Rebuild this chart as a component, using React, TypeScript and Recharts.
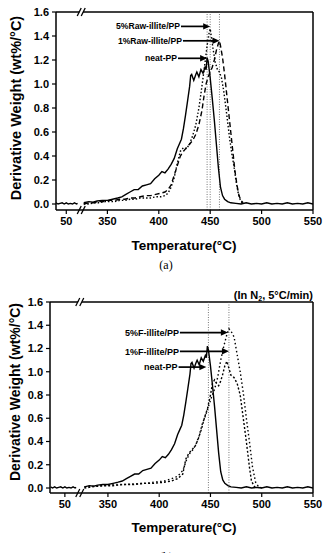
import React from "react";
import { LineChart, Line, XAxis, YAxis, ReferenceLine } from "recharts";

type Pt = [number, number];

// DTG curves, [temperature °C, derivative weight wt%/°C]
const LEFT_BASE: Pt[] = [
  [36, 0.01], [38, 0.0], [40, 0.01], [42, 0.0], [44, 0.005], [46, 0.01], [48, 0.0],
  [50, 0.01], [52, 0.0], [54, 0.005], [56, 0.0], [58, 0.01], [60, 0.0], [61, 0.005],
];

const NEAT_PP: Pt[] = [
  [327, 0.01], [332, 0.02], [336, 0.015], [340, 0.025], [345, 0.03], [350, 0.03], [355, 0.04],
  [360, 0.05], [364, 0.06], [368, 0.08], [372, 0.1], [376, 0.12], [380, 0.12], [384, 0.15],
  [388, 0.16], [392, 0.17], [396, 0.21], [400, 0.24], [403, 0.27], [406, 0.26], [409, 0.29],
  [412, 0.33], [415, 0.38], [418, 0.46], [420, 0.5], [422, 0.54], [424, 0.63], [426, 0.74],
  [428, 0.86], [430, 0.98], [431, 1.07], [432, 1.08], [434, 1.03], [436, 1.08], [437, 1.1],
  [439, 1.06], [441, 1.12], [443, 1.09], [445, 1.14], [446, 1.12], [447, 1.22], [448, 1.19],
  [449, 1.12], [450, 1.05], [452, 0.88], [454, 0.7], [456, 0.5], [458, 0.3], [460, 0.14],
  [462, 0.07], [464, 0.04], [467, 0.02], [470, 0.01], [475, 0.005], [480, 0.0], [485, 0.01],
  [490, 0.0], [495, 0.005], [500, 0.0], [505, 0.01], [510, 0.0], [515, 0.005], [520, 0.0],
  [525, 0.01], [530, 0.0], [535, 0.005], [540, 0.0], [545, 0.01], [550, 0.0],
];

const RAW_1: Pt[] = [
  [327, 0.0], [332, 0.01], [337, 0.01], [342, 0.02], [347, 0.02], [352, 0.03], [357, 0.03],
  [362, 0.04], [367, 0.04], [372, 0.05], [377, 0.05], [382, 0.06], [387, 0.07], [392, 0.07],
  [397, 0.08], [402, 0.09], [406, 0.1], [409, 0.12], [412, 0.16], [415, 0.24], [418, 0.32],
  [421, 0.4], [424, 0.44], [427, 0.47], [430, 0.5], [433, 0.53], [436, 0.58], [439, 0.66],
  [442, 0.78], [444, 0.9], [446, 1.0], [448, 1.06], [450, 1.1], [452, 1.14], [454, 1.2],
  [456, 1.28], [458, 1.34], [459, 1.36], [460, 1.32], [462, 1.22], [464, 1.08], [466, 0.92],
  [468, 0.76], [470, 0.6], [472, 0.44], [474, 0.28], [476, 0.16], [478, 0.07], [480, 0.03],
  [482, 0.01],
];

const RAW_5: Pt[] = [
  [327, 0.0], [332, 0.0], [337, 0.01], [342, 0.01], [347, 0.02], [352, 0.02], [357, 0.02],
  [362, 0.03], [367, 0.03], [372, 0.04], [377, 0.04], [382, 0.05], [387, 0.05], [392, 0.05],
  [397, 0.06], [402, 0.06], [406, 0.07], [409, 0.09], [412, 0.14], [415, 0.22], [418, 0.34],
  [421, 0.44], [424, 0.47], [427, 0.46], [430, 0.5], [433, 0.57], [436, 0.66], [439, 0.8],
  [441, 0.92], [443, 1.05], [445, 1.18], [447, 1.32], [449, 1.43], [450, 1.46], [451, 1.4],
  [453, 1.28], [455, 1.18], [457, 1.12], [459, 1.1], [461, 1.05], [463, 0.95], [465, 0.82],
  [467, 0.68], [469, 0.54], [471, 0.42], [473, 0.32], [475, 0.2], [477, 0.1], [479, 0.04],
  [481, 0.01],
];

const F_1: Pt[] = [
  [327, 0.0], [335, 0.01], [345, 0.02], [355, 0.02], [365, 0.03], [375, 0.03], [385, 0.04],
  [395, 0.04], [405, 0.05], [412, 0.06], [418, 0.08], [423, 0.12], [426, 0.25], [429, 0.3],
  [432, 0.33], [435, 0.36], [438, 0.42], [441, 0.5], [444, 0.6], [447, 0.68], [450, 0.8],
  [452, 0.9], [454, 0.93], [456, 0.9], [458, 0.88], [460, 0.92], [462, 0.98], [464, 1.05],
  [466, 1.09], [468, 1.03], [470, 0.97], [473, 0.95], [476, 0.9], [479, 0.8], [482, 0.6],
  [485, 0.4], [488, 0.18], [490, 0.06], [493, 0.01], [500, 0.0],
];

const F_5: Pt[] = [
  [327, 0.01], [335, 0.015], [345, 0.02], [355, 0.03], [365, 0.03], [375, 0.035], [385, 0.04],
  [395, 0.05], [405, 0.06], [412, 0.08], [418, 0.1], [423, 0.15], [427, 0.25], [430, 0.3],
  [433, 0.33], [436, 0.38], [439, 0.45], [442, 0.55], [445, 0.62], [448, 0.7], [451, 0.78],
  [454, 0.85], [457, 0.95], [460, 1.1], [463, 1.22], [466, 1.32], [468, 1.37], [470, 1.35],
  [473, 1.3], [476, 1.15], [479, 1.0], [482, 0.82], [485, 0.6], [488, 0.4], [491, 0.18],
  [494, 0.05], [497, 0.01], [500, 0.0],
];

const TEMP_TICKS = [50, 350, 400, 450, 500, 550];
const WEIGHT_TICKS = [0, 0.2, 0.4, 0.6, 0.8, 1.0, 1.2, 1.4, 1.6];

const RAW_PEAKS = [447, 450, 459];
const F_PEAKS = [448, 468];

const RAW_ARROWS = [
  { label: "5%Raw-illite/PP", y: 1.48, from: 421.6, to: 450 },
  { label: "1%Raw-illite/PP", y: 1.36, from: 423.5, to: 459 },
  { label: "neat-PP", y: 1.214, from: 418.7, to: 447 },
];
const F_ARROWS = [
  { label: "5%F-illite/PP", y: 1.337, from: 420.2, to: 467 },
  { label: "1%F-illite/PP", y: 1.176, from: 420.2, to: 468 },
  { label: "neat-PP", y: 1.04, from: 418.9, to: 446 },
];

const FONT = '"Liberation Sans", Arial, Helvetica, sans-serif';
const SERIF = '"Liberation Serif", "Times New Roman", serif';
const INK = "#000";
const BREAK = 65; // axis units where the temperature axis jumps

type Series = { pts: Pt[]; dash?: string; width?: number; base?: boolean };

// compress the gap between the low-temperature stub and the 320–550 °C window
const axisX = (t: number, shift: number) => (t < 200 ? t : t - shift);

function rows(s: Series, shift: number, xMin: number) {
  const out: { x: number; y: number | null }[] = [];
  if (s.base) LEFT_BASE.forEach(([t, v]) => { if (t >= xMin) out.push({ x: t, y: v }); });
  out.push({ x: BREAK, y: null });
  s.pts.forEach(([t, v]) => out.push({ x: axisX(t, shift), y: v }));
  return out;
}

const arrowShape = (label: string, size: number) => (p: any) => {
  const { x1, y1, x2, y2 } = p;
  const head = 7;
  return (
    <g>
      <line x1={x1} y1={y1} x2={x2 - head + 1} y2={y2} stroke={INK} strokeWidth={1.7} />
      <polygon points={`${x2},${y2} ${x2 - head},${y2 - 3.2} ${x2 - head},${y2 + 3.2}`} fill={INK} />
      <text x={x1 - 1} y={y1} dy="0.36em" textAnchor="end" fontSize={size} fontWeight="bold" fontFamily={FONT} fill={INK}>
        {label}
      </text>
    </g>
  );
};

// "//" marks on the top and bottom frame lines
const breakShape = (p: any) => {
  const x = p.x1;
  const ends = [Math.min(p.y1, p.y2), Math.max(p.y1, p.y2)];
  return (
    <g>
      {ends.map((y: number) => (
        <g key={y}>
          <polygon points={`${x - 4},${y + 4} ${x},${y - 4} ${x + 3.5},${y - 4} ${x - 0.5},${y + 4}`} fill="#fff" />
          <line x1={x - 4.5} y1={y + 4} x2={x - 0.5} y2={y - 4} stroke={INK} strokeWidth={1.3} />
          <line x1={x - 0.5} y1={y + 4} x2={x + 3.5} y2={y - 4} stroke={INK} strokeWidth={1.3} />
        </g>
      ))}
    </g>
  );
};

type PanelProps = {
  top: number;
  yAxisWidth: number;
  marginTop: number;
  marginBottom: number;
  shift: number;
  xDomain: [number, number];
  yMin: number;
  series: Series[];
  peaks: number[];
  arrows: { label: string; y: number; from: number; to: number }[];
  arrowFont: number;
};

function Panel(props: PanelProps) {
  const { top, yAxisWidth, marginTop, marginBottom, shift, xDomain, yMin, series, peaks, arrows, arrowFont } = props;
  const tick = { fill: INK, fontSize: 11, fontWeight: "bold", fontFamily: FONT } as const;
  return (
    <div style={{ position: "absolute", left: 0, top }}>
      <LineChart width={326} height={250} margin={{ top: marginTop, right: 13, left: 0, bottom: marginBottom }}>
        <XAxis
          type="number"
          dataKey="x"
          domain={xDomain}
          allowDataOverflow
          ticks={TEMP_TICKS.map((t) => axisX(t, shift))}
          tickFormatter={(v: number) => String(v < BREAK ? v : Math.round(v + shift))}
          tick={tick}
          height={20}
          tickSize={4}
          tickMargin={3}
          axisLine={{ stroke: INK, strokeWidth: 1.5 }}
          tickLine={{ stroke: INK, strokeWidth: 1.2 }}
        />
        <YAxis
          type="number"
          domain={[yMin, 1.6]}
          allowDataOverflow
          ticks={WEIGHT_TICKS}
          tickFormatter={(v: number) => v.toFixed(1)}
          tick={tick}
          width={yAxisWidth}
          tickSize={4}
          tickMargin={3}
          axisLine={{ stroke: INK, strokeWidth: 1.5 }}
          tickLine={{ stroke: INK, strokeWidth: 1.2 }}
        />
        <ReferenceLine y={1.6} stroke={INK} strokeWidth={1.5} />
        <ReferenceLine x={xDomain[1]} stroke={INK} strokeWidth={1.5} />
        {peaks.map((t) => (
          <ReferenceLine key={t} x={axisX(t, shift)} stroke="#555" strokeWidth={0.8} strokeDasharray="1 1.5" />
        ))}
        {series.map((s, i) => (
          <Line
            key={i}
            data={rows(s, shift, xDomain[0])}
            dataKey="y"
            type="linear"
            stroke={INK}
            strokeWidth={s.width ?? 1.4}
            strokeDasharray={s.dash}
            dot={false}
            activeDot={false}
            isAnimationActive={false}
          />
        ))}
        {arrows.map((a) => (
          <ReferenceLine
            key={a.label}
            segment={[{ x: axisX(a.from, shift), y: a.y }, { x: axisX(a.to, shift), y: a.y }]}
            shape={arrowShape(a.label, arrowFont)}
            ifOverflow="visible"
          />
        ))}
        <ReferenceLine x={BREAK} shape={breakShape} ifOverflow="visible" />
      </LineChart>
    </div>
  );
}

const yTitle = (cx: number, cy: number, size: number) => (
  <div
    style={{
      position: "absolute", left: cx - 120, top: cy - 10, width: 240, height: 20, lineHeight: "20px",
      textAlign: "center", transform: "rotate(-90deg)", fontFamily: FONT, fontWeight: "bold",
      fontSize: size, whiteSpace: "nowrap", color: INK,
    }}
  >
    Derivative Weight (wt%/°C)
  </div>
);

const centered = (cx: number, cy: number, size: number, text: React.ReactNode, family = FONT, bold = true) => (
  <div
    style={{
      position: "absolute", left: cx - 100, top: cy - 8, width: 200, height: 16, lineHeight: "16px",
      textAlign: "center", fontFamily: family, fontWeight: bold ? "bold" : "normal", fontSize: size,
      whiteSpace: "nowrap", color: INK,
    }}
  >
    {text}
  </div>
);

export default function App() {
  return (
    <div style={{ position: "absolute", left: 0, top: 0, width: 326, height: 553, overflow: "hidden", background: "#fff" }}>
      <Panel
        top={0}
        yAxisWidth={56}
        marginTop={12}
        marginBottom={20}
        shift={260}
        xDomain={[40, 290]}
        yMin={-0.05}
        series={[
          { pts: NEAT_PP, base: true },
          { pts: RAW_1, dash: "5 3" },
          { pts: RAW_5, dash: "1.5 2" },
        ]}
        peaks={RAW_PEAKS}
        arrows={RAW_ARROWS}
        arrowFont={8.6}
      />
      {yTitle(16, 108, 14.5)}
      {centered(184, 246, 13.5, "Temperature(°C)")}
      {centered(166, 265, 12, "(a)", SERIF, false)}

      <Panel
        top={290}
        yAxisWidth={50}
        marginTop={12}
        marginBottom={27}
        shift={258}
        xDomain={[35.5, 292]}
        yMin={-0.043}
        series={[
          { pts: NEAT_PP, base: true },
          { pts: F_1, dash: "2 2" },
          { pts: F_5, dash: "1.5 2.5" },
        ]}
        peaks={F_PEAKS}
        arrows={F_ARROWS}
        arrowFont={9}
      />
      <div
        style={{
          position: "absolute", right: 13, top: 287, fontFamily: FONT, fontWeight: "bold", fontSize: 11,
          whiteSpace: "nowrap", color: INK, lineHeight: "16px",
        }}
      >
        (In N<span style={{ fontSize: 7, verticalAlign: "-2px" }}>2</span>, 5°C/min)
      </div>
      {yTitle(15, 392, 14)}
      {centered(184, 528, 13.5, "Temperature(°C)")}
      {centered(166, 557, 12, "(b)", SERIF, false)}
    </div>
  );
}
